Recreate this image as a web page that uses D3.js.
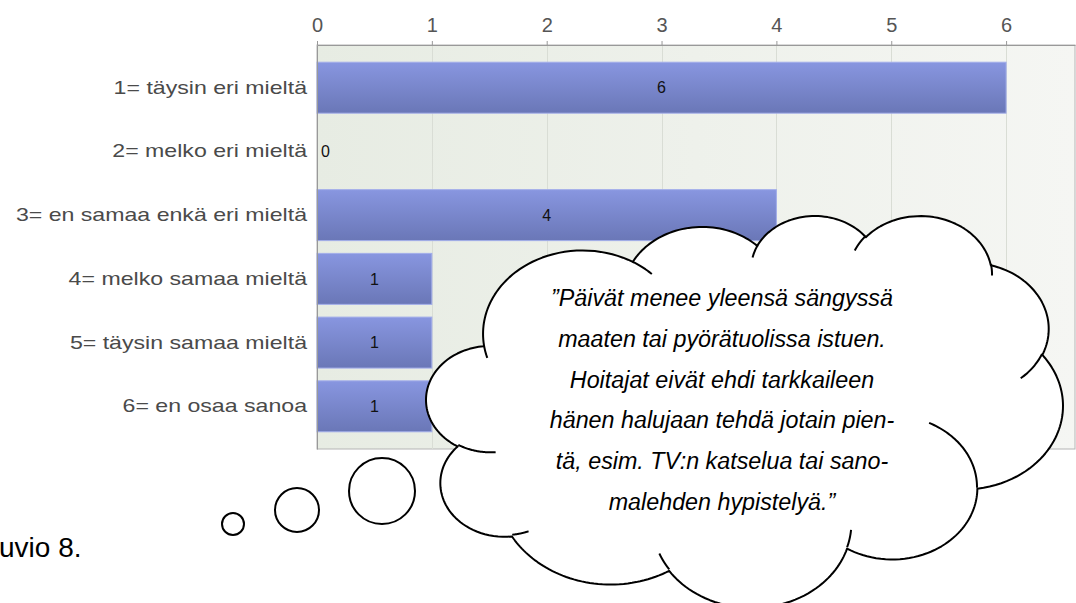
<!DOCTYPE html>
<html>
<head>
    <meta charset="utf-8">
    <title>Kuvio 8</title>
    <script src="https://d3js.org/d3.v7.min.js" charset="utf-8"></script>
    <style>
        body { margin: 0; background: #fff; }
        svg { display: block; }
    </style>
</head>
<body>
<script>
    var categories = ['1= täysin eri mieltä', '2= melko eri mieltä', '3= en samaa enkä eri mieltä',
        '4= melko samaa mieltä', '5= täysin samaa mieltä', '6= en osaa sanoa'];
    var counts = [6, 0, 4, 1, 1, 1];
    var tickValues = [0, 1, 2, 3, 4, 5, 6];
    var quoteLines = ['”Päivät menee yleensä sängyssä', 'maaten tai pyörätuolissa istuen.',
        'Hoitajat eivät ehdi tarkkaileen', 'hänen halujaan tehdä jotain pien-',
        'tä, esim. TV:n katselua tai sano-', 'malehden hypistelyä.”'];
    var caption = 'uvio 8.';

    var width = 1076, height = 603;
    var plot = {left: 317, right: 1075, top: 45, bottom: 449};
    var xMax = 6.6;
    var labelStretch = 1.25;

    var svg = d3.select('body').append('svg').attr('width', width).attr('height', height);
    var defs = svg.append('defs');

    var bg = defs.append('linearGradient').attr('id', 'bg').attr('x1', 0).attr('x2', 1).attr('y1', 0).attr('y2', 0);
    bg.append('stop').attr('offset', '0%').attr('stop-color', '#e7ece3');
    bg.append('stop').attr('offset', '100%').attr('stop-color', '#f5f6f3');

    var barGrad = defs.append('linearGradient').attr('id', 'bar').attr('x1', 0).attr('x2', 0).attr('y1', 0).attr('y2', 1);
    barGrad.append('stop').attr('offset', '0%').attr('stop-color', '#8896e0');
    barGrad.append('stop').attr('offset', '100%').attr('stop-color', '#6a77b7');

    var x = d3.scaleLinear().domain([0, xMax]).range([plot.left, plot.right]);
    var y = d3.scaleBand().domain(categories).range([plot.top, plot.bottom])
            .paddingInner(0.2).paddingOuter(0.27);

    // plot background
    svg.append('rect')
            .attr('x', plot.left).attr('y', plot.top)
            .attr('width', plot.right - plot.left).attr('height', plot.bottom - plot.top)
            .attr('fill', 'url(#bg)').attr('stroke', '#b4b4b4').attr('stroke-width', 1);

    // grid lines
    svg.append('g').selectAll('line').data(tickValues.slice(1)).enter().append('line')
            .attr('x1', function (d) { return Math.round(x(d)) + 0.5; })
            .attr('x2', function (d) { return Math.round(x(d)) + 0.5; })
            .attr('y1', plot.top).attr('y2', plot.bottom)
            .attr('stroke', '#d9ddd5').attr('stroke-width', 1);

    // bars
    svg.append('g').selectAll('rect').data(counts).enter().append('rect')
            .attr('x', x(0))
            .attr('y', function (d, i) { return y(categories[i]); })
            .attr('width', function (d) { return x(d) - x(0); })
            .attr('height', y.bandwidth())
            .attr('fill', 'url(#bar)')
            .attr('stroke', function (d) { return d > 0 ? '#a3aeea' : 'none'; })
            .attr('stroke-width', 1);

    // value labels
    svg.append('g').selectAll('text').data(counts).enter().append('text')
            .attr('x', function (d) { return d > 0 ? x(d / 2) : x(0) + 4; })
            .attr('y', function (d, i) { return y(categories[i]) + y.bandwidth() / 2; })
            .attr('dy', '0.36em')
            .attr('text-anchor', function (d) { return d > 0 ? 'middle' : 'start'; })
            .attr('font-family', 'Liberation Sans, Arial, sans-serif')
            .attr('font-size', 16)
            .attr('fill', '#111')
            .text(function (d) { return d; });

    // top axis
    var topAxis = svg.append('g').attr('transform', 'translate(0,' + plot.top + ')')
            .call(d3.axisTop(x).tickValues(tickValues).tickFormat(d3.format('d'))
                    .tickSize(4).tickPadding(9).tickSizeOuter(0));
    topAxis.select('.domain').attr('stroke', '#999');
    topAxis.selectAll('.tick line').attr('stroke', '#999');
    topAxis.selectAll('.tick text')
            .attr('font-family', 'Liberation Sans, Arial, sans-serif')
            .attr('font-size', 20)
            .attr('fill', '#555');

    // left axis (category labels)
    var leftAxis = svg.append('g').attr('transform', 'translate(' + plot.left + ',0)')
            .call(d3.axisLeft(y).tickSize(0).tickPadding(10));
    leftAxis.select('.domain').attr('stroke', '#999');
    leftAxis.selectAll('.tick text')
            .attr('font-family', 'Liberation Sans, Arial, sans-serif')
            .attr('font-size', 18.5)
            .attr('fill', '#4a4a4a')
            .attr('x', -10 / labelStretch)
            .attr('transform', 'scale(' + labelStretch + ',1)');

    // caption
    svg.append('text').attr('x', -1).attr('y', 557)
            .attr('font-family', 'Liberation Sans, Arial, sans-serif')
            .attr('font-size', 28).attr('fill', '#000')
            .text(caption);

    // thought bubble tail
    var tail = [{cx: 233, cy: 524, r: 11}, {cx: 297, cy: 510, r: 22}, {cx: 382, cy: 491, r: 33}];
    svg.append('g').selectAll('circle').data(tail).enter().append('circle')
            .attr('cx', function (d) { return d.cx; })
            .attr('cy', function (d) { return d.cy; })
            .attr('r', function (d) { return d.r; })
            .attr('fill', '#fff').attr('stroke', '#000').attr('stroke-width', 2);

    // cloud shape (office preset geometry, 43200 x 43200 frame)
    var cloudStart = [3900, 14370];
    var cloudArcs = [[6753, 9190, -11429249, 7426832], [5333, 7267, -8646143, 5396714],
        [4365, 5945, -8748475, 5983381], [4857, 6595, -7859164, 7034504],
        [5333, 7273, -4722533, 6541615], [6775, 9220, -2776035, 7816140],
        [5785, 7867, 37501, 6842000], [6752, 9215, 1347096, 6910353],
        [7720, 10543, 3974558, 4542661], [4360, 5918, -16496525, 8804134],
        [4345, 5945, -14809710, 9151131]];
    var cloudMarks = [[4693, 26177, 4345, 5945, 5204520, 1585770], [6928, 34899, 4360, 5918, 4416628, 686848],
        [16478, 39090, 6752, 9215, 8257449, 844866], [28827, 34751, 6752, 9215, 387196, 959901],
        [34129, 22954, 5785, 7867, -4217541, 4255042], [41798, 15354, 5333, 7273, 1819082, 1665090],
        [38324, 5426, 4857, 6595, -824660, 891534], [29078, 3952, 4857, 6595, -8950887, 1091722],
        [22141, 4720, 4365, 5945, -9809656, 1061181], [14000, 5192, 6753, 9190, -4002417, 739161],
        [4127, 15789, 6753, 9190, 9459261, 711490]];

    function arcPoints(cur, wR, hR, stAng, swAng) {
        var st = stAng / 60000 * Math.PI / 180, sw = swAng / 60000 * Math.PI / 180;
        function onEllipse(a) {
            var t = Math.atan2(wR * Math.sin(a), hR * Math.cos(a));
            return [wR * Math.cos(t), hR * Math.sin(t)];
        }
        var p0 = onEllipse(st);
        var cx = cur[0] - p0[0], cy = cur[1] - p0[1];
        var pts = [];
        for (var i = 1; i <= 48; i++) {
            var p = onEllipse(st + sw * i / 48);
            pts.push([cx + p[0], cy + p[1]]);
        }
        return pts;
    }

    var outline = [cloudStart];
    cloudArcs.forEach(function (a) {
        outline = outline.concat(arcPoints(outline[outline.length - 1], a[0], a[1], a[2], a[3]));
    });
    var marks = cloudMarks.map(function (m) {
        return [[m[0], m[1]]].concat(arcPoints([m[0], m[1]], m[2], m[3], m[4], m[5]));
    });

    var cx = d3.scaleLinear().domain(d3.extent(outline, function (p) { return p[0]; })).range([426, 1063]);
    var cy = d3.scaleLinear().domain(d3.extent(outline, function (p) { return p[1]; })).range([216, 608]);
    var cloudLine = d3.line().x(function (p) { return cx(p[0]); }).y(function (p) { return cy(p[1]); });

    svg.append('path').attr('d', cloudLine(outline) + 'Z')
            .attr('fill', '#fff').attr('stroke', '#000').attr('stroke-width', 2)
            .attr('stroke-linejoin', 'round');
    svg.append('g').selectAll('path').data(marks).enter().append('path')
            .attr('d', function (d) { return cloudLine(d); })
            .attr('fill', 'none').attr('stroke', '#000').attr('stroke-width', 2);

    // quote text
    svg.append('g').selectAll('text').data(quoteLines).enter().append('text')
            .attr('x', 722)
            .attr('y', function (d, i) { return 306 + i * 40.8; })
            .attr('text-anchor', 'middle')
            .attr('font-family', 'Liberation Sans, Arial, sans-serif')
            .attr('font-style', 'italic')
            .attr('font-size', 23.3)
            .attr('fill', '#000')
            .text(function (d) { return d; });
</script>
</body>
</html>
